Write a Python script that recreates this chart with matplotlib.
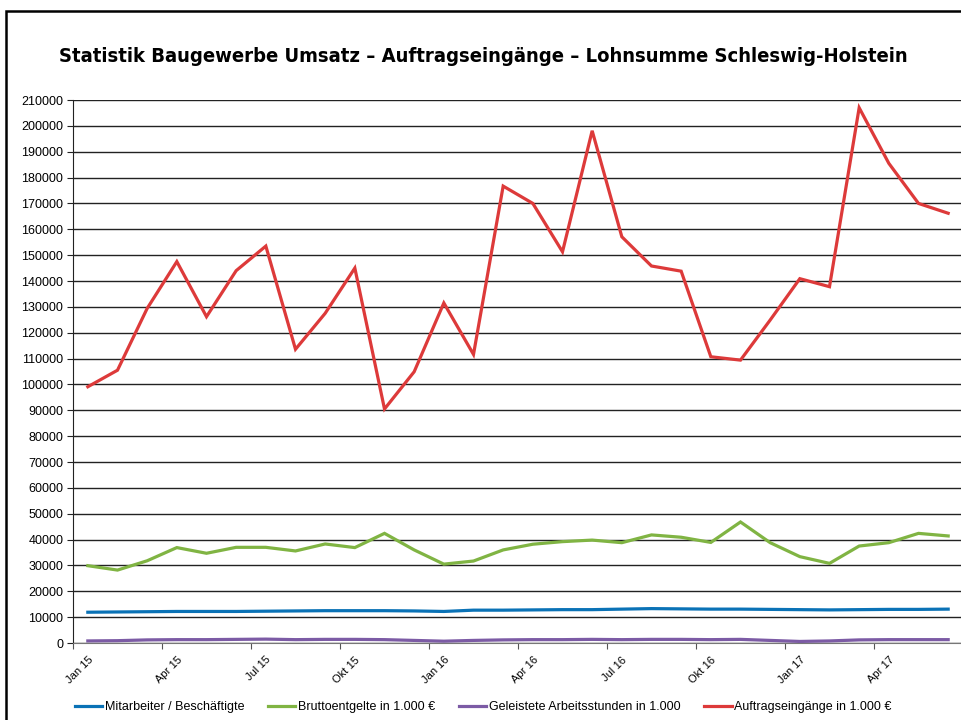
import matplotlib
matplotlib.use("Agg")
import matplotlib.pyplot as plt
from matplotlib.patches import Rectangle
import numpy as np

months = ["Jan 15", "Feb 15", "Mär 15", "Apr 15", "Mai 15", "Jun 15",
          "Jul 15", "Aug 15", "Sep 15", "Okt 15", "Nov 15", "Dez 15",
          "Jan 16", "Feb 16", "Mär 16", "Apr 16", "Mai 16", "Jun 16",
          "Jul 16", "Aug 16", "Sep 16", "Okt 16", "Nov 16", "Dez 16",
          "Jan 17", "Feb 17", "Mär 17", "Apr 17", "Mai 17", "Jun 17"]

mitarbeiter = [11900, 12000, 12100, 12200, 12200, 12200, 12300, 12400, 12500, 12500,
               12500, 12400, 12200, 12700, 12700, 12800, 12900, 12900, 13100, 13300,
               13200, 13100, 13100, 13000, 12900, 12800, 12900, 13000, 13000, 13100]
brutto = [29900, 28200, 31800, 36900, 34700, 37000, 37000, 35600, 38300, 36900,
          42400, 36000, 30500, 31700, 36000, 38200, 39200, 39800, 38800, 41800,
          40900, 38900, 46800, 38800, 33400, 30800, 37500, 38800, 42400, 41400]
stunden = [800, 900, 1200, 1300, 1300, 1400, 1500, 1300, 1400, 1400,
           1300, 1000, 700, 1000, 1200, 1300, 1300, 1400, 1300, 1400,
           1400, 1300, 1400, 1000, 600, 800, 1200, 1300, 1300, 1300]
auftrag = [99100, 105500, 129400, 147500, 126200, 144000, 153500, 113600, 127500, 145000,
           90500, 104900, 131500, 111600, 176700, 170000, 151300, 198100, 157100, 145800,
           143800, 110700, 109400, 124900, 140900, 137800, 207000, 185500, 170000, 166200]

labels = ["Mitarbeiter / Beschäftigte", "Bruttoentgelte in 1.000 €",
          "Geleistete Arbeitsstunden in 1.000", "Auftragseingänge in 1.000 €"]
colors = ["#0a72b6", "#80b443", "#7c5ba5", "#dd3a3a"]

plt.rcParams['font.family'] = ['Liberation Sans', 'DejaVu Sans']

fig = plt.figure(figsize=(9.62, 7.2), dpi=100)
ax = fig.add_axes([73 / 962, 1 - 643 / 720, 890 / 962, 543 / 720])

x = np.arange(len(months))
for vals, lab, col in zip([mitarbeiter, brutto, stunden, auftrag], labels, colors):
    ax.plot(x, vals, color=col, linewidth=2.3, label=lab, solid_joinstyle='miter')

ax.set_xlim(-0.5, len(months) - 0.5)
ax.set_ylim(0, 210000)
ax.set_yticks(np.arange(0, 210001, 10000))
ax.tick_params(axis='y', labelsize=9, length=4, direction='out', color='#222222', pad=3)
ax.yaxis.grid(True, color='#222222', linewidth=1)
ax.set_axisbelow(True)

ax.set_xticks(np.arange(-0.5, len(months), 3))
ax.set_xticklabels([])
ax.tick_params(axis='x', length=4, direction='out', color='#555555')
for i in range(0, len(months), 3):
    ax.text(i + 0.0, -4500, months[i], rotation=45, ha='right', va='top',
            fontsize=8, rotation_mode='anchor')

for s in ['top', 'right']:
    ax.spines[s].set_visible(False)
ax.spines['left'].set_color('#222222')
ax.spines['bottom'].set_color('#777777')

# Titel: schmale fette Schrift, Breite auf ca. 850 px angepasst
title = fig.text(483 / 962, 1 - 57 / 720,
                 "Statistik Baugewerbe Umsatz – Auftragseingänge – Lohnsumme Schleswig-Holstein",
                 ha='center', va='center', fontsize=17, fontweight='heavy',
                 family='DejaVu Sans', fontstretch='condensed')
fig.canvas.draw()
w = title.get_window_extent().width
title.set_fontsize(17 * 850 / w)

fig.legend(loc='center', bbox_to_anchor=(483 / 962, 1 - 707 / 720), ncol=4,
           frameon=False, fontsize=9, handlelength=2.2, handletextpad=0.2,
           columnspacing=1.9)

fig.patches.append(Rectangle((6 / 962, -0.1), 1.2, 1.1 - 11 / 720,
                             transform=fig.transFigure, fill=False,
                             edgecolor='black', linewidth=1.8))

fig.savefig("out.png", dpi=100)
